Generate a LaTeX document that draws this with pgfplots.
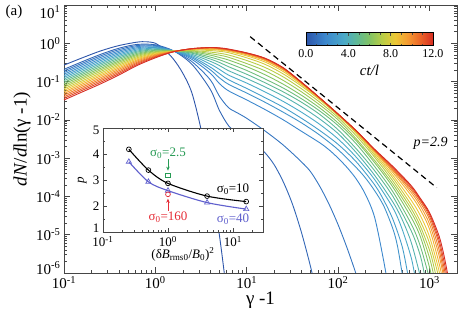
\documentclass[border=0pt]{standalone}
\usepackage{pgfplots}
\pgfplotsset{compat=1.18}
\usepackage{fontspec}
\setmainfont{Liberation Serif}
\usetikzlibrary{calc,arrows.meta}

\definecolor{c0}{RGB}{45,85,170}
\definecolor{c1}{RGB}{50,102,182}
\definecolor{c2}{RGB}{55,118,193}
\definecolor{c3}{RGB}{60,135,205}
\definecolor{c4}{RGB}{65,147,203}
\definecolor{c5}{RGB}{70,158,202}
\definecolor{c6}{RGB}{75,170,200}
\definecolor{c7}{RGB}{85,178,175}
\definecolor{c8}{RGB}{95,185,150}
\definecolor{c9}{RGB}{112,190,125}
\definecolor{c10}{RGB}{130,195,100}
\definecolor{c11}{RGB}{158,200,85}
\definecolor{c12}{RGB}{185,205,70}
\definecolor{c13}{RGB}{210,203,62}
\definecolor{c14}{RGB}{235,200,55}
\definecolor{c15}{RGB}{240,178,52}
\definecolor{c16}{RGB}{245,155,50}
\definecolor{c17}{RGB}{240,128,45}
\definecolor{c18}{RGB}{235,100,40}
\definecolor{c19}{RGB}{225,72,38}
\definecolor{c20}{RGB}{215,45,35}
\definecolor{insblue}{RGB}{95,95,205}
\definecolor{insgreen}{RGB}{40,155,85}
\definecolor{insred}{RGB}{230,45,55}
\definecolor{axgray}{RGB}{70,70,70}

\pgfplotsset{cv/.style={line width=0.9pt, smooth, tension=0.5, no markers}}

\begin{document}
\begin{tikzpicture}
\begin{axis}[name=main, scale only axis, width=393pt, height=268pt,
  xmode=log, ymode=log, xmin=0.1, xmax=2000, ymin=1e-6, ymax=10,
  xtick={0.1,1,10,100,1000},
  xticklabels={{10\textsuperscript{-1}},{10\textsuperscript{0}},{10\textsuperscript{1}},{10\textsuperscript{2}},{10\textsuperscript{3}}},
  ytick={1e-6,1e-5,1e-4,1e-3,1e-2,1e-1,1,10},
  yticklabels={{\raisebox{5pt}[\height][\depth]{10\textsuperscript{-6}}},{10\textsuperscript{-5}},{10\textsuperscript{-4}},{10\textsuperscript{-3}},{10\textsuperscript{-2}},{10\textsuperscript{-1}},{10\textsuperscript{0}},{\raisebox{-7pt}[\height][\depth]{10\textsuperscript{1}}}},
  minor xtick={0.2,0.3,0.4,0.5,0.6,0.7,0.8,0.9,2,3,4,5,6,7,8,9,20,30,40,50,60,70,80,90,200,300,400,500,600,700,800,900},
  minor ytick={2e-6,3e-6,4e-6,5e-6,6e-6,7e-6,8e-6,9e-6,2e-5,3e-5,4e-5,5e-5,6e-5,7e-5,8e-5,9e-5,2e-4,3e-4,4e-4,5e-4,6e-4,7e-4,8e-4,9e-4,2e-3,3e-3,4e-3,5e-3,6e-3,7e-3,8e-3,9e-3,0.02,0.03,0.04,0.05,0.06,0.07,0.08,0.09,0.2,0.3,0.4,0.5,0.6,0.7,0.8,0.9,2,3,4,5,6,7,8,9},
  tick align=inside,
  major tick length=6pt, minor tick length=3pt,
  axis line style={axgray, line width=0.8pt},
  every tick/.style={axgray, line width=0.6pt},
  ticklabel style={font=\fontsize{15}{15}\selectfont},
  xlabel={γ -1}, ylabel={\textit{dN}/\textit{d}ln(γ -1)},
  label style={font=\fontsize{19}{19}\selectfont},
  xlabel style={at={(axis description cs:0.5,-0.1)}, anchor=center},
  ylabel style={at={(axis description cs:-0.107,0.5)}, anchor=center},
  colormap={mymap}{rgb255(0cm)=(45,85,170); rgb255(3cm)=(60,135,205); rgb255(6cm)=(75,170,200); rgb255(8cm)=(95,185,150); rgb255(10cm)=(130,195,100); rgb255(12cm)=(185,205,70); rgb255(14cm)=(235,200,55); rgb255(16cm)=(245,155,50); rgb255(18cm)=(235,100,40); rgb255(20cm)=(215,45,35)},
  point meta min=0, point meta max=12,
  colorbar horizontal,
  colorbar style={
    at={($(parent axis.north west)+(242pt,-19pt)$)}, anchor=north west,
    scale only axis, width=127pt, height=13pt,
    xtick={0,4,8,12}, xticklabels={0.0,4.0,8.0,12.0},
    minor xtick={1,2,3,5,6,7,9,10,11},
    tick align=inside, major tick length=3pt, minor tick length=2pt,
    every tick/.style={black!70, line width=0.5pt},
    xticklabel style={font=\fontsize{12}{12}\selectfont},
    xlabel={\textit{ct/l}},
    xlabel style={font=\fontsize{15}{15}\selectfont, at={(axis description cs:0.5,-1.92)}, anchor=center},
    axis line style={black, line width=0.6pt},
  },
]
% t = 0
\addplot[cv, c0] coordinates {(0.1,0.269) (0.1585,0.417) (0.2512,0.631) (0.3981,0.871) (0.631,1.072) (0.7943,1.096) (1,1.0) (1.259,0.676) (1.585,0.380) (1.995,0.166) (2.512,0.0501) (3.162,5.62e-3) (3.981,3.16e-4) (5.012,1e-5) (6.026,3.16e-7)};
\addplot[cv, c1] coordinates {(0.1,0.209) (0.1585,0.331) (0.2512,0.513) (0.3981,0.741) (0.631,0.933) (1,0.912) (1.585,0.631) (2.512,0.282) (3.981,0.0631) (5.012,0.0178) (6.31,7.08e-3) (7.943,4.37e-3) (10,3.16e-3) (12.59,2.19e-3) (15.85,1.38e-3) (19.95,6.76e-4) (25.12,2.4e-4) (31.62,6.31e-5) (39.81,1.12e-5) (50.12,1.41e-6) (56.23,3.98e-7)};
\addplot[cv, c2] coordinates {(0.1,0.190) (0.1585,0.301) (0.2512,0.468) (0.3981,0.681) (0.631,0.873) (1,0.875) (1.585,0.631) (2.512,0.331) (3.981,0.112) (5.012,0.0417) (6.31,0.0209) (7.943,0.0151) (10,0.01096) (15.85,5.13e-3) (25.12,2.19e-3) (39.81,7.94e-4) (50.12,4.37e-4) (63.1,1.82e-4) (79.43,6.31e-5) (100,1.82e-5) (125.9,4.37e-6) (158.5,8.91e-7) (177.8,3.55e-7)};
\addplot[cv, c3] coordinates {(0.1,0.172) (0.1585,0.274) (0.2512,0.426) (0.3981,0.625) (0.631,0.817) (1,0.839) (1.585,0.631) (2.512,0.380) (3.981,0.166) (5.012,0.0891) (6.31,0.0575) (10,0.0331) (15.85,0.0186) (25.12,0.01) (39.81,5.01e-3) (63.1,2.51e-3) (79.43,1.66e-3) (100,1e-3) (125.9,5.62e-4) (158.5,2.82e-4) (199.5,1.12e-4) (251.2,2.82e-5) (316.2,2.0e-6) (354.8,3.98e-7)};
\addplot[cv, c4] coordinates {(0.1,0.156) (0.1585,0.248) (0.2512,0.387) (0.3981,0.574) (0.631,0.764) (1,0.805) (1.585,0.631) (2.512,0.417) (3.981,0.204) (5.012,0.126) (6.31,0.0851) (10,0.0501) (15.85,0.0288) (25.12,0.0158) (39.81,8.32e-3) (63.1,3.98e-3) (100,1.66e-3) (158.5,5.62e-4) (199.5,3.02e-4) (251.2,1.41e-4) (316.2,5.62e-5) (398.1,1.41e-5) (446.7,5.01e-6) (501.2,1e-6) (549.5,2.51e-7)};
\addplot[cv, c5] coordinates {(0.1,0.142) (0.1585,0.225) (0.2512,0.353) (0.3981,0.527) (0.631,0.714) (1,0.773) (1.585,0.631) (2.512,0.447) (3.981,0.240) (5.012,0.162) (6.31,0.112) (10,0.0661) (15.85,0.0380) (25.12,0.0214) (39.81,0.01096) (63.1,5.25e-3) (100,2.29e-3) (158.5,7.94e-4) (251.2,2.0e-4) (316.2,7.94e-5) (398.1,2.51e-5) (501.2,5.01e-6) (575.4,1e-6) (631,2.51e-7)};
\addplot[cv, c6] coordinates {(0.1,0.129) (0.1585,0.205) (0.2512,0.321) (0.3981,0.485) (0.631,0.668) (1,0.743) (1.585,0.631) (2.512,0.479) (3.981,0.288) (5.012,0.209) (6.31,0.148) (10,0.0912) (15.85,0.0537) (25.12,0.0302) (39.81,0.0158) (63.1,7.59e-3) (100,3.16e-3) (158.5,1.05e-3) (251.2,2.75e-4) (398.1,5.01e-5) (501.2,1.41e-5) (631,2.51e-6) (707.9,6.31e-7) (794.3,1.58e-7)};
\addplot[cv, c7] coordinates {(0.1,0.117) (0.1585,0.186) (0.2512,0.293) (0.3981,0.446) (0.631,0.625) (1,0.713) (1.585,0.631) (2.512,0.513) (3.981,0.339) (5.012,0.263) (6.31,0.193) (10,0.120) (15.85,0.0724) (25.12,0.0417) (39.81,0.0219) (63.1,0.01047) (100,4.37e-3) (158.5,1.38e-3) (251.2,3.55e-4) (398.1,7.08e-5) (501.2,2.51e-5) (631,6.31e-6) (794.3,7.94e-7) (891.3,2.0e-7)};
\addplot[cv, c8] coordinates {(0.1,0.106) (0.1585,0.169) (0.2512,0.267) (0.3981,0.409) (0.631,0.586) (1,0.684) (1.585,0.631) (2.512,0.550) (3.981,0.389) (5.012,0.316) (6.31,0.245) (10,0.155) (15.85,0.0933) (25.12,0.0537) (39.81,0.0288) (63.1,0.0138) (100,5.50e-3) (158.5,1.74e-3) (251.2,4.68e-4) (398.1,1e-4) (631,1.26e-5) (794.3,2.82e-6) (891.3,7.94e-7) (1000,2.0e-7)};
\addplot[cv, c9] coordinates {(0.1,0.0962) (0.1585,0.154) (0.2512,0.243) (0.3981,0.376) (0.631,0.547) (1,0.656) (1.585,0.631) (2.512,0.575) (3.981,0.437) (5.012,0.372) (6.31,0.302) (10,0.195) (15.85,0.117) (25.12,0.0676) (39.81,0.0355) (63.1,0.0170) (100,7.08e-3) (158.5,2.34e-3) (251.2,6.03e-4) (398.1,1.32e-4) (631,1.91e-5) (794.3,5.01e-6) (1000,7.08e-7) (1122,2.0e-7)};
\addplot[cv, c10] coordinates {(0.1,0.0873) (0.1585,0.140) (0.2512,0.221) (0.3981,0.345) (0.631,0.512) (1,0.630) (1.585,0.631) (2.512,0.603) (3.981,0.490) (5.012,0.427) (6.31,0.366) (10,0.245) (15.85,0.151) (25.12,0.0851) (39.81,0.0437) (63.1,0.0204) (100,8.32e-3) (158.5,2.82e-3) (251.2,7.59e-4) (398.1,1.74e-4) (631,2.82e-5) (794.3,8.91e-6) (1000,1.41e-6) (1122,3.98e-7)};
\addplot[cv, c11] coordinates {(0.1,0.0793) (0.1585,0.127) (0.2512,0.202) (0.3981,0.318) (0.631,0.480) (1,0.604) (1.585,0.631) (2.512,0.631) (3.981,0.537) (5.012,0.490) (6.31,0.432) (10,0.295) (15.85,0.191) (25.12,0.107) (39.81,0.0537) (63.1,0.0245) (100,0.01) (158.5,3.16e-3) (251.2,8.71e-4) (398.1,2.09e-4) (631,3.80e-5) (794.3,1.26e-5) (1000,2.51e-6) (1122,7.94e-7) (1259,2.0e-7)};
\addplot[cv, c12] coordinates {(0.1,0.0719) (0.1585,0.116) (0.2512,0.184) (0.3981,0.292) (0.631,0.449) (1,0.579) (1.585,0.617) (2.512,0.646) (3.981,0.589) (5.012,0.550) (6.31,0.495) (10,0.355) (15.85,0.234) (25.12,0.132) (39.81,0.0646) (63.1,0.0288) (100,0.0115) (158.5,3.80e-3) (251.2,1.05e-3) (398.1,2.51e-4) (631,4.79e-5) (794.3,1.66e-5) (1000,3.98e-6) (1122,1.41e-6) (1259,3.98e-7)};
\addplot[cv, c13] coordinates {(0.1,0.0652) (0.1585,0.105) (0.2512,0.167) (0.3981,0.268) (0.631,0.419) (1,0.556) (1.585,0.617) (2.512,0.676) (3.981,0.646) (5.012,0.617) (6.31,0.569) (10,0.417) (15.85,0.282) (25.12,0.158) (39.81,0.0759) (63.1,0.0331) (100,0.0129) (158.5,4.37e-3) (251.2,1.20e-3) (398.1,3.02e-4) (631,6.03e-5) (794.3,2.24e-5) (1000,6.03e-6) (1259,7.94e-7) (1413,2.0e-7)};
\addplot[cv, c14] coordinates {(0.1,0.0593) (0.1585,0.0955) (0.2512,0.152) (0.3981,0.246) (0.631,0.393) (1,0.533) (1.585,0.617) (2.512,0.692) (3.981,0.692) (5.012,0.661) (6.31,0.617) (10,0.468) (15.85,0.324) (25.12,0.182) (39.81,0.0832) (63.1,0.0347) (100,0.0135) (158.5,4.68e-3) (251.2,1.35e-3) (398.1,3.55e-4) (631,7.94e-5) (794.3,3.16e-5) (1000,8.91e-6) (1259,1.26e-6) (1413,3.16e-7)};
\addplot[cv, c15] coordinates {(0.1,0.0537) (0.1585,0.0867) (0.2512,0.139) (0.3981,0.226) (0.631,0.367) (1,0.512) (1.585,0.617) (2.512,0.700) (3.981,0.716) (5.012,0.692) (6.31,0.646) (10,0.501) (15.85,0.355) (25.12,0.200) (39.81,0.0891) (63.1,0.0363) (100,0.0138) (158.5,4.90e-3) (251.2,1.48e-3) (398.1,4.17e-4) (631,1.05e-4) (794.3,4.47e-5) (1000,1.41e-5) (1259,2.0e-6) (1413,5.62e-7) (1585,1.26e-7)};
\addplot[cv, c16] coordinates {(0.1,0.0489) (0.1585,0.0789) (0.2512,0.126) (0.3981,0.208) (0.631,0.344) (1,0.492) (1.585,0.610) (2.512,0.708) (3.981,0.741) (5.012,0.708) (6.31,0.661) (10,0.525) (15.85,0.372) (25.12,0.209) (39.81,0.0912) (63.1,0.0372) (100,0.0141) (158.5,5.01e-3) (251.2,1.55e-3) (398.1,4.68e-4) (631,1.26e-4) (794.3,5.62e-5) (1000,1.91e-5) (1259,3.16e-6) (1413,8.91e-7) (1585,2.0e-7)};
\addplot[cv, c17] coordinates {(0.1,0.0443) (0.1585,0.0716) (0.2512,0.115) (0.3981,0.191) (0.631,0.321) (1,0.472) (1.585,0.610) (2.512,0.716) (3.981,0.759) (5.012,0.724) (6.31,0.676) (10,0.537) (15.85,0.389) (25.12,0.219) (39.81,0.0933) (63.1,0.0372) (100,0.0141) (158.5,5.01e-3) (251.2,1.58e-3) (398.1,5.01e-4) (631,1.45e-4) (794.3,6.76e-5) (1000,2.51e-5) (1259,4.47e-6) (1413,1.26e-6) (1585,3.16e-7)};
\addplot[cv, c18] coordinates {(0.1,0.0402) (0.1585,0.0650) (0.2512,0.105) (0.3981,0.175) (0.631,0.301) (1,0.453) (1.585,0.603) (2.512,0.716) (3.981,0.767) (5.012,0.741) (6.31,0.684) (10,0.550) (15.85,0.398) (25.12,0.224) (39.81,0.0955) (63.1,0.0372) (100,0.0141) (158.5,5.13e-3) (251.2,1.62e-3) (398.1,5.37e-4) (631,1.62e-4) (794.3,7.76e-5) (1000,3.02e-5) (1259,6.31e-6) (1413,1.78e-6) (1585,4.47e-7)};
\addplot[cv, c19] coordinates {(0.1,0.0365) (0.1585,0.0592) (0.2512,0.0957) (0.3981,0.161) (0.631,0.281) (1,0.435) (1.585,0.603) (2.512,0.724) (3.981,0.776) (5.012,0.750) (6.31,0.692) (10,0.556) (15.85,0.403) (25.12,0.226) (39.81,0.0955) (63.1,0.0372) (100,0.0141) (158.5,5.13e-3) (251.2,1.66e-3) (398.1,5.75e-4) (631,1.78e-4) (794.3,8.32e-5) (1000,3.47e-5) (1259,7.94e-6) (1413,2.51e-6) (1585,6.31e-7) (1778,1.26e-7)};
\addplot[cv, c20] coordinates {(0.1,0.0331) (0.1585,0.0537) (0.2512,0.0871) (0.3981,0.148) (0.631,0.263) (1,0.417) (1.585,0.603) (2.512,0.724) (3.981,0.776) (5.012,0.759) (6.31,0.708) (10,0.562) (15.85,0.407) (25.12,0.229) (39.81,0.0955) (63.1,0.0372) (100,0.0141) (158.5,5.13e-3) (251.2,1.70e-3) (398.1,6.03e-4) (631,1.91e-4) (794.3,8.91e-5) (1000,3.80e-5) (1259,1e-5) (1413,3.55e-6) (1585,8.91e-7) (1778,1.58e-7)};
% power-law guide p = 2.9
\addplot[black, line width=1.2pt, dash pattern=on 6pt off 4pt] coordinates {(10.9,1.49) (1200,1.69e-4)};
\node[font=\fontsize{14}{14}\selectfont\itshape] at (axis cs:1030,2.5e-3) {p=2.9};
\end{axis}

\node[font=\fontsize{15}{15}\selectfont] at ($(main.north west)+(-50pt,-7pt)$) {(a)};

\begin{axis}[name=inset, at={($(main.south west)+(39pt,41pt)$)}, anchor=south west,
  scale only axis, width=160pt, height=104pt,
  xmode=log, xmin=0.1, xmax=29, ymin=1, ymax=5,
  xtick={0.1,1,10}, xticklabels={{10\textsuperscript{-1}},{10\textsuperscript{0}},{10\textsuperscript{1}}},
  minor xtick={0.2,0.3,0.4,0.5,0.6,0.7,0.8,0.9,2,3,4,5,6,7,8,9,20},
  ytick={1,2,3,4,5}, yticklabels={{\raisebox{4pt}[\height][\depth]{1}},2,3,4,{\raisebox{-2pt}[\height][\depth]{5}}},
  minor ytick={1.5,2.5,3.5,4.5},
  axis background/.style={fill=white},
  tick align=inside, major tick length=4pt, minor tick length=2pt,
  axis line style={axgray, line width=0.7pt},
  every tick/.style={axgray, line width=0.5pt},
  ticklabel style={font=\fontsize{13}{13}\selectfont},
  xticklabel style={yshift=-1pt},
  xlabel={(δ\textit{B}\textsubscript{rms0}/\textit{B}\textsubscript{0})\textsuperscript{2}},
  ylabel={\textit{p}},
  label style={font=\fontsize{13}{13}\selectfont},
  xlabel style={at={(axis description cs:0.5,-0.215)}, anchor=center},
  ylabel style={at={(axis description cs:-0.13,0.5)}, anchor=center},
]
\addplot[black, line width=1.1pt, smooth, tension=0.5, mark=o, mark size=2.4pt, mark options={line width=0.7pt, solid}] coordinates {(0.25,4.18) (0.5,3.38) (1,2.87) (4,2.38) (16,2.17)};
\addplot[insblue, line width=1.1pt, smooth, tension=0.5, mark=triangle, mark size=3pt, mark options={line width=0.7pt, solid}] coordinates {(0.25,3.70) (0.5,2.93) (1,2.59) (4,2.13) (16,1.88)};
\addplot[insgreen, only marks, mark=square, mark size=2.2pt, mark options={line width=0.7pt}] coordinates {(1,3.19)};
\addplot[insred, only marks, mark=o, mark size=2.4pt, mark options={line width=0.7pt}] coordinates {(1,2.45)};
\draw[-{Stealth[length=4pt,width=3.5pt]}, insgreen, line width=0.8pt] (axis cs:1,3.80) -- (axis cs:1,3.36);
\draw[-{Stealth[length=4pt,width=3.5pt]}, insred, line width=0.8pt] (axis cs:1,1.82) -- (axis cs:1,2.28);
\node[insgreen, font=\fontsize{13}{13}\selectfont] at (axis cs:1,4.04) {σ\textsubscript{0}=2.5};
\node[insred, font=\fontsize{13}{13}\selectfont] at (axis cs:1,1.58) {σ\textsubscript{0}=160};
\node[black, font=\fontsize{13}{13}\selectfont] at (axis cs:10,2.65) {σ\textsubscript{0}=10};
\node[insblue, font=\fontsize{13}{13}\selectfont] at (axis cs:10,1.5) {σ\textsubscript{0}=40};
\end{axis}

\pgfresetboundingbox
\path[use as bounding box] ($(main.south west)+(-64pt,-42pt)$) rectangle ($(main.north east)+(14pt,5pt)$);
\end{tikzpicture}
\end{document}
